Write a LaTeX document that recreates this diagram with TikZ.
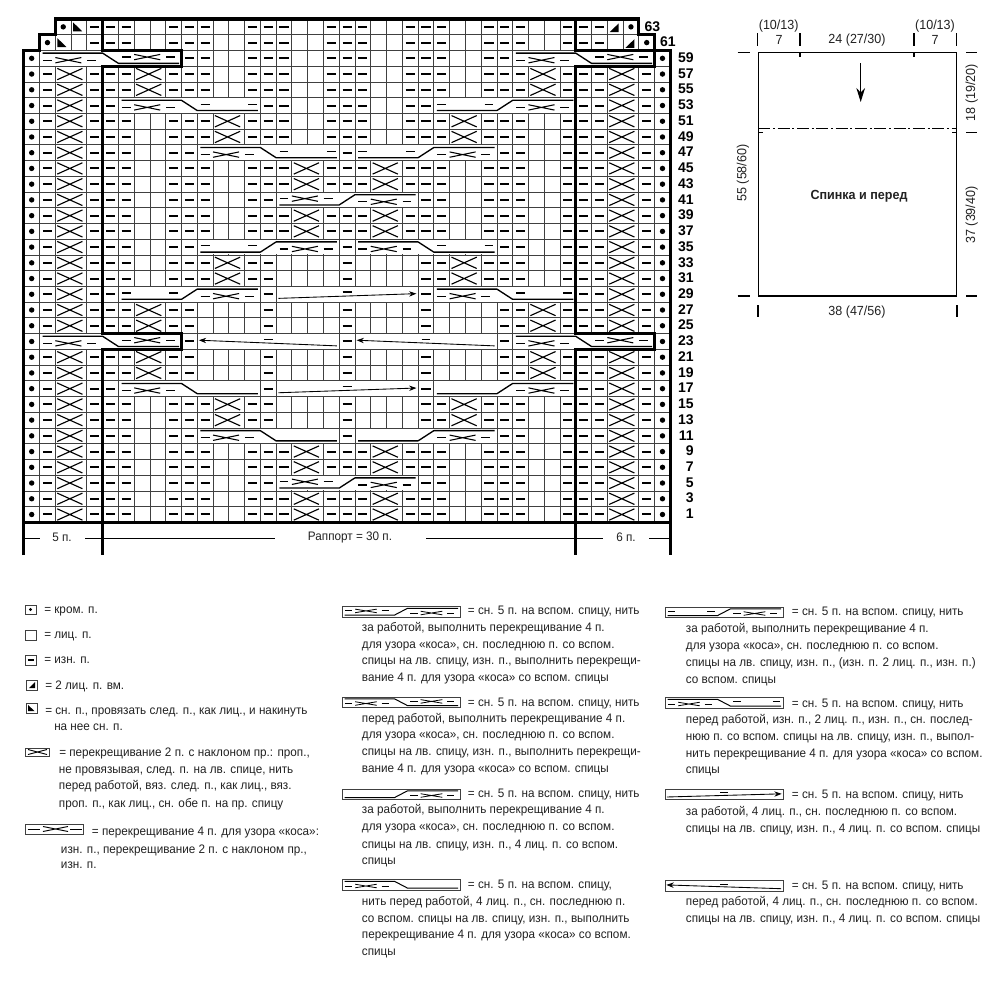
\documentclass[tikz,border=0pt]{standalone}
\usepackage{fontspec}
\setmainfont{Liberation Sans}
\newfontfamily\narrowf[FakeStretch=0.95]{Liberation Sans}
\usetikzlibrary{arrows.meta}
\definecolor{gridc}{HTML}{404040}
\definecolor{inkc}{HTML}{222222}
\tikzset{
  gridln/.style={draw=gridc,line width=.6pt},
  dashmk/.style={draw=black,line width=1.3pt},
  xmark/.style={draw=black,line width=.85pt},
  thread/.style={draw=black,line width=1pt,line join=round},
  fineline/.style={draw=black,line width=.65pt},
  heavy/.style={draw=black,line width=2.4pt,line join=miter},
  legtext/.style={anchor=base west,inner sep=0pt,font=\narrowf\fontsize{9.25}{11}\selectfont,text=inkc},
  dimtext/.style={inner sep=0pt,font=\narrowf\fontsize{9.9}{11}\selectfont,text=inkc},
  reptext/.style={inner sep=0pt,font=\narrowf\fontsize{9.25}{11}\selectfont,text=inkc},
  rowlab/.style={anchor=east,inner sep=0pt,font=\bfseries\fontsize{10.5}{12}\selectfont},
  legbox/.style={draw=gridc,line width=.65pt,fill=white},
}
\def\XO{23.8}\def\CW{15.77}\def\RH{15.73}
\newcount\kncol
\newcount\knleg
\def\cabLW{1pt}\def\cabXW{.8pt}\def\cabTW{1pt}
\def\kncell#1{%
  \pgfmathsetmacro\xa{\XO+\CW*\the\kncol}%
  \pgfmathsetmacro\xb{\xa+\CW}%
  \pgfmathsetmacro\xc{\xa+.5*\CW}%
  \if#1n\else\if#1x\else
    \if#1X\pgfmathsetmacro\xb{\xa+2*\CW}\fi
    \draw[gridln] (\xa,\ya) rectangle (\xb,\yb);
  \fi\fi
  \if#1-\draw[dashmk] (\xc-.29*\CW,\yd) -- (\xc+.29*\CW,\yd);\fi
  \if#1d\fill[black] (\xc,\ym) circle [radius=2.7];\fi
  \if#1X\draw[xmark] (\xa+.12*\CW,\ya+.14*\RH) -- (\xa+1.72*\CW,\yb-.14*\RH)
     (\xa+.12*\CW,\yb-.14*\RH) -- (\xa+1.72*\CW,\ya+.14*\RH);\fi
  \if#1l\fill[black] (\xa+.13*\CW,\ya+.22*\RH) -- (\xa+.13*\CW,\ya+.78*\RH) -- (\xa+.70*\CW,\ya+.78*\RH) -- cycle;\fi
  \if#1r\fill[black] (\xa+.72*\CW,\ya+.28*\RH) -- (\xa+.72*\CW,\ya+.84*\RH) -- (\xa+.15*\CW,\ya+.84*\RH) -- cycle;\fi
}
\def\knrowloop#1{\ifx#1\relax\let\knnext\relax\else\kncell{#1}\advance\kncol by 1 \let\knnext\knrowloop\fi\knnext}
\def\chartrow#1#2#3{%
  \pgfmathsetmacro\ya{19+\RH*(63-#1)/2}%
  \pgfmathsetmacro\yb{\ya+\RH}%
  \pgfmathsetmacro\ym{\ya+.5*\RH}%
  \pgfmathsetmacro\yd{round(\ym)}%
  \kncol=0
  \knrowloop#2\relax
  \node[rowlab] (lab#1) at (#3,\ym-.6) {#1};
}
\def\crow#1#2{\chartrow{#1}{d-Xx-#2--Xx-d}{694}}
% cable symbols
\def\cabsym#1#2#3{%
  \if#1X
    \draw[dashmk,line width=\cabLW] (#2+.22*\cW,#3) -- (#2+.78*\cW,#3);
    \draw[xmark,line width=\cabXW] (#2+1.0*\cW,#3-.17*\cH) -- (#2+2.65*\cW,#3+.17*\cH)
      (#2+1.0*\cW,#3+.17*\cH) -- (#2+2.65*\cW,#3-.17*\cH);
    \draw[dashmk,line width=\cabLW] (#2+3.02*\cW,#3) -- (#2+3.58*\cW,#3);
  \fi
  \if#1D
    \draw[dashmk,line width=\cabLW] (#2+.22*\cW,#3) -- (#2+.78*\cW,#3);
    \draw[dashmk,line width=\cabLW] (#2+3.22*\cW,#3) -- (#2+3.78*\cW,#3);
  \fi
}
\def\cabdraw#1#2#3#4#5#6#7{%
  \def\cW{#3}\def\cH{#4}%
  \fill[white] (#1+.6,#2+.6) rectangle (#1+9*#3-.6,#2+#4-.6);
  \if#5F
    \draw[thread,line width=\cabTW] (#1+.2*#3,#2+.17*#4) -- (#1+4*#3,#2+.17*#4) -- (#1+5*#3,#2+.82*#4) -- (#1+8.85*#3,#2+.82*#4);
    \pgfmathsetmacro\cyl{#2+.62*#4}\pgfmathsetmacro\cyr{#2+.42*#4}%
  \else
    \draw[thread,line width=\cabTW] (#1+.2*#3,#2+.82*#4) -- (#1+4*#3,#2+.82*#4) -- (#1+5*#3,#2+.17*#4) -- (#1+8.85*#3,#2+.17*#4);
    \pgfmathsetmacro\cyl{#2+.42*#4}\pgfmathsetmacro\cyr{#2+.62*#4}%
  \fi
  \pgfmathsetmacro\cxr{#1+5*#3}%
  \cabsym{#6}{#1}{\cyl}%
  \cabsym{#7}{\cxr}{\cyr}%
}
\def\arrdraw#1#2#3#4#5{%
  \fill[white] (#1+.6,#2+.6) rectangle (#1+9*#3-.6,#2+#4-.6);
  \draw[dashmk,line width=\cabLW] (#1+4.22*#3,#2+.36*#4) -- (#1+4.78*#3,#2+.36*#4);
  \if#5R
    \draw[fineline,-{Stealth[length=5.5pt,width=4pt]}] (#1+.15*#3,#2+.76*#4) -- (#1+8.9*#3,#2+.46*#4);
  \else
    \draw[fineline,-{Stealth[length=5.5pt,width=4pt]}] (#1+8.85*#3,#2+.78*#4) -- (#1+.1*#3,#2+.42*#4);
  \fi
}
\def\ccable#1#2#3#4#5{%
  \pgfmathsetmacro\cya{19+\RH*(63-#1)/2}\pgfmathsetmacro\cxa{\XO+\CW*#2}%
  \cabdraw{\cxa}{\cya}{\CW}{\RH}{#3}{#4}{#5}%
}
\def\carrow#1#2#3{%
  \pgfmathsetmacro\cya{19+\RH*(63-#1)/2}\pgfmathsetmacro\cxa{\XO+\CW*#2}%
  \arrdraw{\cxa}{\cya}{\CW}{\RH}{#3}%
}
\def\legline#1#2#3{%
  \global\advance\knleg by 1
  \node[legtext] (leg\the\knleg) at (#1,#2+3) {#3};
}
\def\legcable#1#2#3#4#5{%
  \draw[legbox] (#1,#2) rectangle (#1+118,#2+10.5);
  \cabdraw{#1}{#2}{13.11}{10.5}{#3}{#4}{#5}%
}
\def\legarrow#1#2#3{%
  \draw[legbox] (#1,#2) rectangle (#1+118,#2+10.5);
  \arrdraw{#1}{#2}{13.11}{10.5}{#3}%
}
\begin{document}
\begin{tikzpicture}[x=.75pt,y=-.75pt]
\useasboundingbox (0,0) rectangle (1000,982);
\fill[white] (0,0) rectangle (1000,982);
% ---- chart rows
\chartrow{63}{nndl---oo---oo---oo---oo---oo---oo---rdnn}{660.5}
\chartrow{61}{ndlo---oo---oo---oo---oo---oo---oo---ordn}{676}
\chartrow{59}{dccccccccc--oo---oo---oo---oo--cccccccccd}{694}
\crow{57}{--Xx---oo---oo---oo---oo---Xx-}
\crow{55}{--Xx---oo---oo---oo---oo---Xx-}
\crow{53}{-ccccccccc--oo---oo--ccccccccc}
\crow{51}{--oo---Xx---oo---oo---Xx---oo-}
\crow{49}{--oo---Xx---oo---oo---Xx---oo-}
\crow{47}{--oo--ccccccccc-ccccccccc--oo-}
\crow{45}{--oo---oo---Xx---Xx---oo---oo-}
\crow{43}{--oo---oo---Xx---Xx---oo---oo-}
\crow{41}{--oo---oo--ccccccccc--oo---oo-}
\crow{39}{--oo---oo---Xx---Xx---oo---oo-}
\crow{37}{--oo---oo---Xx---Xx---oo---oo-}
\crow{35}{--oo--ccccccccc-ccccccccc--oo-}
\crow{33}{--oo---Xx--oooo-oooo--Xx---oo-}
\crow{31}{--oo---Xx--oooo-oooo--Xx---oo-}
\crow{29}{-ccccccccc-ccccccccc-ccccccccc}
\crow{27}{--Xx--oooo-oooo-oooo-oooo--Xx-}
\crow{25}{--Xx--oooo-oooo-oooo-oooo--Xx-}
\chartrow{23}{dccccccccc-ccccccccc-ccccccccc-cccccccccd}{694}
\crow{21}{--Xx--oooo-oooo-oooo-oooo--Xx-}
\crow{19}{--Xx--oooo-oooo-oooo-oooo--Xx-}
\crow{17}{-ccccccccc-ccccccccc-ccccccccc}
\crow{15}{--oo---Xx--oooo-oooo--Xx---oo-}
\crow{13}{--oo---Xx--oooo-oooo--Xx---oo-}
\crow{11}{--oo--ccccccccc-ccccccccc--oo-}
\crow{9}{--oo---oo---Xx---Xx---oo---oo-}
\crow{7}{--oo---oo---Xx---Xx---oo---oo-}
\crow{5}{--oo---oo--ccccccccc--oo---oo-}
\crow{3}{--oo---oo---Xx---Xx---oo---oo-}
\crow{1}{--oo---oo---Xx---Xx---oo---oo-}
% ---- cables
\ccable{59}{1}{F}{X}{X}\ccable{59}{31}{F}{X}{X}
\ccable{53}{6}{F}{X}{D}\ccable{53}{26}{R}{D}{X}
\ccable{47}{11}{F}{X}{D}\ccable{47}{21}{R}{D}{X}
\ccable{41}{16}{R}{X}{X}
\ccable{35}{11}{R}{D}{X}\ccable{35}{21}{F}{X}{D}
\ccable{29}{6}{R}{D}{X}\carrow{29}{16}{R}\ccable{29}{26}{F}{X}{D}
\ccable{23}{1}{F}{X}{X}\carrow{23}{11}{L}\carrow{23}{21}{L}\ccable{23}{31}{F}{X}{X}
\ccable{17}{6}{F}{X}{N}\carrow{17}{16}{R}\ccable{17}{26}{R}{N}{X}
\ccable{11}{11}{F}{X}{N}\ccable{11}{21}{R}{N}{X}
\ccable{5}{16}{R}{X}{X}
% ---- heavy outlines
\draw[heavy] (23.8,555) -- (23.8,50.46) -- (39.57,50.46) -- (39.57,34.73) -- (55.34,34.73) -- (55.34,19)
  -- (638.83,19) -- (638.83,34.73) -- (654.6,34.73) -- (654.6,50.46) -- (670.37,50.46) -- (670.37,555);
\draw[heavy] (102.65,19) -- (102.65,50.46) -- (181.5,50.46) -- (181.5,66.19) -- (102.65,66.19)
  -- (102.65,333.6) -- (181.5,333.6) -- (181.5,349.33) -- (102.65,349.33) -- (102.65,555);
\draw[heavy] (575.75,19) -- (575.75,50.46) -- (654.6,50.46) -- (654.6,66.19) -- (575.75,66.19)
  -- (575.75,333.6) -- (654.6,333.6) -- (654.6,349.33) -- (575.75,349.33) -- (575.75,555);
\draw[heavy] (23.8,522.36) -- (670.37,522.36);
% ---- repeat dimension
\draw[fineline] (23.8,538) -- (40,538) (85,538) -- (102.65,538) (102.65,538) -- (275,538)
  (426,538) -- (575.75,538) (575.75,538) -- (603,538) (649,538) -- (670.37,538);
\node[reptext] (dimfive) at (62,537.5) {5 п.};
\node[reptext] (dimrep) at (350,537.5) {Раппорт = 30 п.};
\node[reptext] (dimsix) at (626,537.5) {6 п.};
% ---- schematic
\draw[line width=1.15pt,draw=black] (758.3,52.7) rectangle (956.7,296);
\draw[line width=.9pt,dash pattern=on 9pt off 2pt on 1.5pt off 2pt] (758.3,128.3) -- (956.7,128.3);
\draw[line width=1pt] (800,52.7) -- (800,57) (914,52.7) -- (914,57)
  (758.3,132.7) -- (763,132.7) (952,132.7) -- (956.7,132.7);
\draw[line width=.9pt,-{Stealth[length=10.5pt,width=6.5pt]}] (860.7,63) -- (860.7,102);
\draw[line width=.8pt] (757.7,33) -- (757.7,46) (800,33) -- (800,46) (914,33) -- (914,46) (956.7,33) -- (956.7,46)
  (737.7,52.7) -- (750,52.7) (737.7,296) -- (750,296)
  (966,52.7) -- (977,52.7) (966,132.7) -- (977,132.7) (966,296) -- (977,296)
  (758,305) -- (758,317) (957,305) -- (957,317);
\node[dimtext] (schA) at (778.7,26) {(10/13)};
\node[dimtext] (schB) at (779,40) {7};
\node[dimtext] (schC) at (857,40) {24 (27/30)};
\node[dimtext] (schD) at (935,26) {(10/13)};
\node[dimtext] (schE) at (935,40) {7};
\node[dimtext,rotate=90] (schF) at (743,173) {55 (58/60)};
\node[dimtext,rotate=90] (schG) at (971.7,92.7) {18 (19/20)};
\node[dimtext,rotate=90] (schH) at (971.7,215) {37 (39/40)};
\node[dimtext] (schI) at (857,311.7) {38 (47/56)};
\node[dimtext,font=\narrowf\bfseries\fontsize{9.9}{11}\selectfont] (schJ) at (859,196.7) {Спинка и перед};
% ---- legend, symbols
\def\cabLW{.75pt}\def\cabXW{.6pt}\def\cabTW{.75pt}
\draw[legbox] (25,605) rectangle (36,614); \fill (30.5,609.5) circle [radius=1.7];
\draw[legbox] (25,630) rectangle (36,640);
\draw[legbox] (25,655) rectangle (36,665); \draw[dashmk,line width=.9pt] (27.5,660) -- (33.5,660);
\draw[legbox] (26,680) rectangle (37,690); \fill (35,682) -- (35,688) -- (29,688) -- cycle;
\draw[legbox] (26,703) rectangle (37,713); \fill (28,705) -- (28,711) -- (34.5,711) -- cycle;
\draw[legbox] (25,748) rectangle (49,756);
\draw[xmark,line width=.7pt] (28,749.5) -- (47,754.5) (28,754.5) -- (47,749.5);
\draw[legbox] (25,824) rectangle (83,834);
\draw[dashmk,line width=.75pt] (27.7,829) -- (40,829) (70,829) -- (81.7,829);
\draw[xmark,line width=.7pt] (43,826.5) -- (68,831.5) (43,831.5) -- (68,826.5);
\legcable{342}{606.5}{R}{X}{X}
\legcable{342}{697}{F}{X}{X}
\legcable{342}{789}{R}{N}{X}
\legcable{342}{879.5}{F}{X}{N}
\legcable{665}{607}{R}{D}{X}
\legcable{665}{697.5}{F}{X}{D}
\legarrow{665}{789}{R}
\legarrow{665}{880.5}{L}
% ---- legend, text
\legline{44}{610}{= кром. п.}
\legline{44}{635}{= лиц. п.}
\legline{44}{660.7}{= изн. п.}
\legline{45}{686}{= 2 лиц. п. вм.}
\legline{45}{711.7}{= сн. п., провязать след. п., как лиц., и накинуть}
\legline{54}{727}{на нее сн. п.}
\legline{59}{753}{= перекрещивание 2 п. с наклоном пр.: проп.,}
\legline{58.7}{770}{не провязывая, след. п. на лв. спице, нить}
\legline{58.7}{786.7}{перед работой, вяз. след. п., как лиц., вяз.}
\legline{58.7}{804}{проп. п., как лиц., сн. обе п. на пр. спицу}
\legline{91.7}{832.7}{= перекрещивание 4 п. для узора «коса»:}
\legline{60.7}{850}{изн. п., перекрещивание 2 п. с наклоном пр.,}
\legline{60.7}{865}{изн. п.}
\legline{467.7}{611.7}{= сн. 5 п. на вспом. спицу, нить}
\legline{361.7}{628}{за работой, выполнить перекрещивание 4 п.}
\legline{361.7}{645}{для узора «коса», сн. последнюю п. со вспом.}
\legline{361.7}{661.7}{спицы на лв. спицу, изн. п., выполнить перекрещи-}
\legline{361.7}{678}{вание 4 п. для узора «коса» со вспом. спицы}
\legline{467.7}{703}{= сн. 5 п. на вспом. спицу, нить}
\legline{361.7}{719}{перед работой, выполнить перекрещивание 4 п.}
\legline{361.7}{735.7}{для узора «коса», сн. последнюю п. со вспом.}
\legline{361.7}{752}{спицы на лв. спицу, изн. п., выполнить перекрещи-}
\legline{361.7}{769}{вание 4 п. для узора «коса» со вспом. спицы}
\legline{467.7}{794.3}{= сн. 5 п. на вспом. спицу, нить}
\legline{361.7}{810}{за работой, выполнить перекрещивание 4 п.}
\legline{361.7}{827.7}{для узора «коса», сн. последнюю п. со вспом.}
\legline{361.7}{845}{спицы на лв. спицу, изн. п., 4 лиц. п. со вспом.}
\legline{361.7}{861}{спицы}
\legline{467.7}{885}{= сн. 5 п. на вспом. спицу,}
\legline{361.7}{902}{нить перед работой, 4 лиц. п., сн. последнюю п.}
\legline{361.7}{919}{со вспом. спицы на лв. спицу, изн. п., выполнить}
\legline{361.7}{935.7}{перекрещивание 4 п. для узора «коса» со вспом.}
\legline{361.7}{952}{спицы}
\legline{791.7}{612.7}{= сн. 5 п. на вспом. спицу, нить}
\legline{685.7}{629}{за работой, выполнить перекрещивание 4 п.}
\legline{685.7}{646}{для узора «коса», сн. последнюю п. со вспом.}
\legline{685.7}{663}{спицы на лв. спицу, изн. п., (изн. п. 2 лиц. п., изн. п.)}
\legline{685.7}{680}{со вспом. спицы}
\legline{791.7}{704}{= сн. 5 п. на вспом. спицу, нить}
\legline{685.7}{720.7}{перед работой, изн. п., 2 лиц. п., изн. п., сн. послед-}
\legline{685.7}{737.7}{нюю п. со вспом. спицы на лв. спицу, изн. п., выпол-}
\legline{685.7}{754}{нить перекрещивание 4 п. для узора «коса» со вспом.}
\legline{685.7}{770}{спицы}
\legline{791.7}{795}{= сн. 5 п. на вспом. спицу, нить}
\legline{685.7}{812.7}{за работой, 4 лиц. п., сн. последнюю п. со вспом.}
\legline{685.7}{829}{спицы на лв. спицу, изн. п., 4 лиц. п. со вспом. спицы}
\legline{791.7}{886}{= сн. 5 п. на вспом. спицу, нить}
\legline{685.7}{902.7}{перед работой, 4 лиц. п., сн. последнюю п. со вспом.}
\legline{685.7}{919}{спицы на лв. спицу, изн. п., 4 лиц. п. со вспом. спицы}
\end{tikzpicture}
\end{document}
